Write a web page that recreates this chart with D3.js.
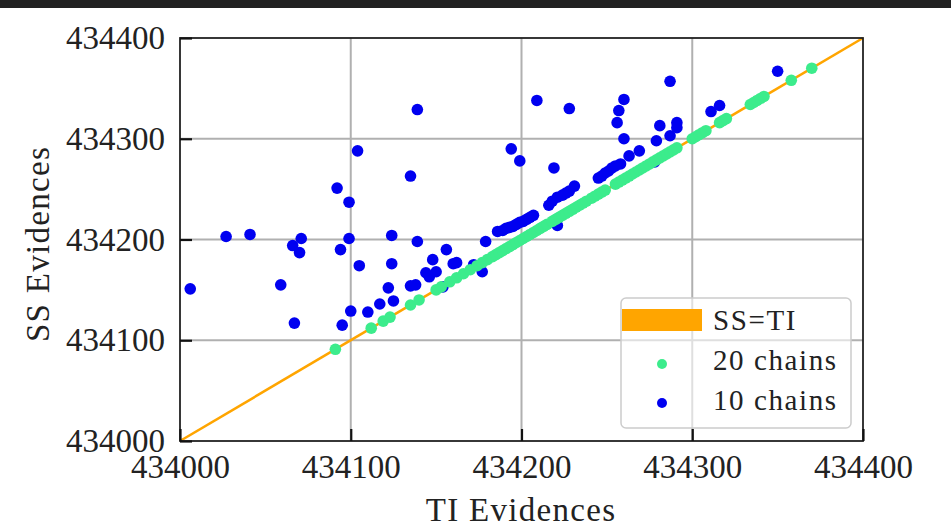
<!DOCTYPE html>
<html>
<head>
<meta charset="utf-8">
<script src="https://cdn.jsdelivr.net/npm/d3@7"></script>
<style>
  body { margin: 0; background: #fff; }
  text { font-family: "Liberation Serif", "DejaVu Serif", serif; fill: #222; }
</style>
</head>
<body>
<script>
// ticks shared by both axes
var ticks = [434000, 434100, 434200, 434300, 434400];

// 20 chains: these sit on the SS=TI line
var greenTI = [434091, 434112, 434119, 434123, 434135, 434140, 434150, 434153, 434158, 434162,
  434166, 434170, 434174, 434177, 434180, 434183, 434185, 434187, 434189, 434191, 434193,
  434195, 434197, 434199, 434201, 434203, 434205, 434207, 434209, 434211, 434213, 434215,
  434218, 434220, 434222, 434224, 434226, 434228, 434230, 434232, 434234, 434236, 434238,
  434241, 434243, 434245, 434247, 434249, 434255, 434257, 434259, 434261, 434263, 434265,
  434267, 434269, 434271, 434273, 434275, 434277, 434279, 434281, 434283, 434285, 434287,
  434289, 434291, 434300, 434302, 434304, 434306, 434308, 434316, 434318, 434320, 434334,
  434336, 434338, 434340, 434342, 434358, 434370];
var greenSS = greenTI.slice();

// 10 chains
var blueTI = [434006, 434027, 434041, 434059, 434066, 434071, 434070, 434067, 434092, 434099,
  434099, 434094, 434105, 434104, 434095, 434100, 434110, 434117, 434125, 434122, 434124,
  434124, 434139, 434135, 434139, 434135, 434138, 434144, 434146, 434150, 434148, 434156,
  434160, 434162, 434154, 434172, 434177, 434179, 434186, 434189, 434191, 434193, 434195,
  434197, 434199, 434201, 434203, 434205, 434207, 434194, 434199, 434209, 434228, 434219,
  434216, 434218, 434221, 434224, 434226, 434228, 434231, 434221, 434245, 434247, 434249,
  434251, 434253, 434255, 434258, 434260, 434257, 434256, 434260, 434263, 434269, 434279,
  434287, 434281, 434291, 434291, 434287, 434311, 434316, 434350, 434278];
var blueSS = [434151, 434203, 434205, 434155, 434194, 434201, 434187, 434117, 434251, 434237,
  434201, 434190, 434174, 434288, 434115, 434129, 434128, 434136, 434139, 434152, 434176,
  434204, 434329, 434263, 434198, 434154, 434155, 434167, 434163, 434168, 434180, 434190,
  434176, 434177, 434153, 434175, 434168, 434198, 434208, 434209, 434211, 434212, 434213,
  434215, 434217, 434218, 434220, 434222, 434224, 434290, 434278, 434338, 434330, 434271,
  434234, 434238, 434242, 434244, 434246, 434248, 434253, 434214, 434261, 434263, 434266,
  434268, 434271, 434273, 434275, 434339, 434328, 434316, 434300, 434283, 434288, 434298,
  434303, 434313, 434316, 434311, 434357, 434327, 434333, 434367, 434277];

var legendLabels = ["SS=TI", "20 chains", "10 chains"];

var blue = "#0000f0", green = "#3cec8c", orange = "#ffa500";

var svg = d3.select("body")
  .append("svg")
  .attr("width", 951)
  .attr("height", 531);

// dark strip at the top of the screenshot
svg.append("rect").attr("width", 951).attr("height", 8).attr("fill", "#222");

var x = d3.scaleLinear().domain([434000, 434400]).range([180, 863]);
var y = d3.scaleLinear().domain([434000, 434400]).range([441, 38]);

// grid
svg.append("g").selectAll("line").data(ticks.slice(1, 4)).enter()
  .append("line")
  .attr("x1", function(d){return x(d);}).attr("x2", function(d){return x(d);})
  .attr("y1", 38).attr("y2", 441)
  .attr("stroke", "#b0b0b0").attr("stroke-width", 2);
svg.append("g").selectAll("line").data(ticks.slice(1, 4)).enter()
  .append("line")
  .attr("y1", function(d){return y(d);}).attr("y2", function(d){return y(d);})
  .attr("x1", 180).attr("x2", 863)
  .attr("stroke", "#b0b0b0").attr("stroke-width", 2);

// SS = TI line
svg.append("line")
  .attr("x1", x(434000)).attr("y1", y(434000))
  .attr("x2", x(434400)).attr("y2", y(434400))
  .attr("stroke", orange).attr("stroke-width", 2.6);

// points
svg.append("g").selectAll("circle").data(blueTI).enter()
  .append("circle")
  .attr("cx", function(d){return x(d);})
  .attr("cy", function(d, i){return y(blueSS[i]);})
  .attr("r", 5.8)
  .attr("fill", blue);

svg.append("g").selectAll("circle").data(greenTI).enter()
  .append("circle")
  .attr("cx", function(d){return x(d);})
  .attr("cy", function(d, i){return y(greenSS[i]);})
  .attr("r", 5.8)
  .attr("fill", green);

// frame
svg.append("rect")
  .attr("x", 180).attr("y", 38).attr("width", 683).attr("height", 403)
  .attr("fill", "none").attr("stroke", "#222").attr("stroke-width", 1.8);

// axes, ticks pointing inward
var fmt = d3.format("d");
var xAxis = svg.append("g").attr("transform", "translate(0,441)")
  .call(d3.axisBottom(x).tickValues(ticks).tickFormat(fmt).tickSize(-12).tickPadding(14));
var yAxis = svg.append("g").attr("transform", "translate(180,0)")
  .call(d3.axisLeft(y).tickValues(ticks).tickFormat(fmt).tickSize(-12).tickPadding(15));

[xAxis, yAxis].forEach(function(a){
  a.select(".domain").remove();
  a.selectAll(".tick line").attr("stroke", "#111").attr("stroke-width", 2.2);
  a.selectAll(".tick text")
    .style("font-family", '"Liberation Serif", serif')
    .style("font-size", "33px")
    .attr("fill", "#222");
});

// axis labels
svg.append("text")
  .attr("x", 521).attr("y", 521)
  .attr("text-anchor", "middle")
  .style("font-size", "33px")
  .style("letter-spacing", "1.3px")
  .text("TI Evidences");

svg.append("text")
  .attr("transform", "translate(49,244) rotate(-90)")
  .attr("text-anchor", "middle")
  .style("font-size", "33px")
  .style("letter-spacing", "1.3px")
  .text("SS Evidences");

// legend
var lg = svg.append("g");
lg.append("rect")
  .attr("x", 621).attr("y", 298).attr("width", 230).attr("height", 130)
  .attr("rx", 5)
  .attr("fill", "#fff").attr("fill-opacity", 0.6)
  .attr("stroke", "#ccc").attr("stroke-width", 1.5);
lg.append("rect")
  .attr("x", 622).attr("y", 309).attr("width", 80).attr("height", 22)
  .attr("fill", orange);
lg.append("circle").attr("cx", 662).attr("cy", 364).attr("r", 5).attr("fill", green);
lg.append("circle").attr("cx", 662).attr("cy", 403).attr("r", 5).attr("fill", blue);
lg.selectAll("text.lab").data(legendLabels).enter()
  .append("text")
  .attr("class", "lab")
  .attr("x", 713)
  .attr("y", function(d, i){return [330, 370, 410][i];})
  .style("font-size", "29px")
  .style("letter-spacing", "1.6px")
  .text(function(d){return d;});
</script>
</body>
</html>
